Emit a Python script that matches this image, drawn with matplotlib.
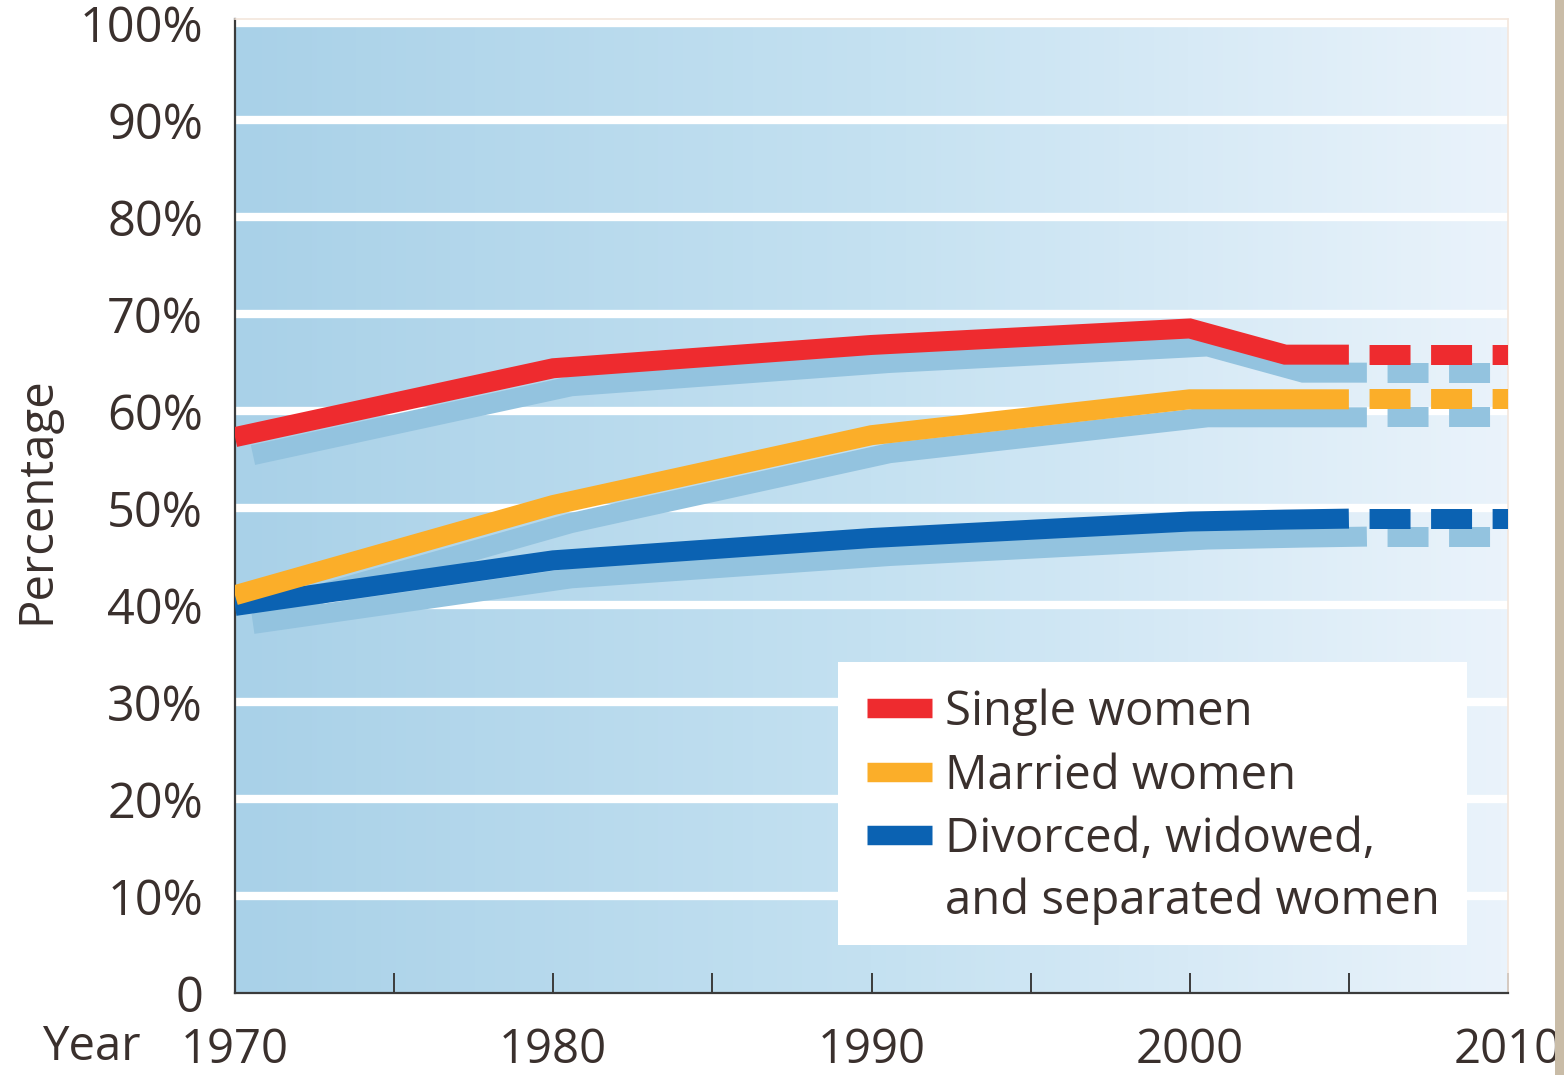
import matplotlib
matplotlib.use("Agg")
import matplotlib.pyplot as plt
import matplotlib.transforms as mtransforms
from matplotlib.colors import LinearSegmentedColormap
from matplotlib.patches import Rectangle
from matplotlib.lines import Line2D
import numpy as np

plt.rcParams['font.family'] = ['Open Sans', 'DejaVu Sans']
plt.rcParams['lines.scale_dashes'] = False

# ---- data ----
years = [1970, 1980, 1990, 2000, 2003, 2005]
single = [57.3, 64.4, 66.8, 68.5, 65.8, 65.8]
married = [41.0, 50.3, 57.5, 61.2, 61.2, 61.2]
divorced = [39.9, 44.6, 46.9, 48.6, 48.8, 48.9]

proj_years = [2005, 2010]
single_proj = [65.8, 65.8]
married_proj = [61.2, 61.2]
divorced_proj = [48.9, 48.9]

labels = ["Single women", "Married women", "Divorced, widowed,\nand separated women"]
colors = ["#ee2b2f", "#fbae29", "#0b62b2"]
xticks = [1970, 1975, 1980, 1985, 1990, 1995, 2000, 2005, 2010]
xtick_labels = ["1970", "", "1980", "", "1990", "", "2000", "", "2010"]
yticks = list(range(0, 101, 10))
ytick_labels = ["0"] + [f"{v}%" for v in yticks[1:]]

TXT = "#3a302d"
SHADOW = "#93c3df"

W, H = 1564, 1075
fig = plt.figure(figsize=(W / 100, H / 100), dpi=100)
fig.patch.set_facecolor("white")
ax = fig.add_axes([235 / W, (H - 993) / H, (1508 - 235) / W, (993 - 19) / H])
ax.set_xlim(1970, 2010)
ax.set_ylim(0, 100.4)

# gradient background
cmap = LinearSegmentedColormap.from_list("bg", ["#a9d1e8", "#c4e1f1", "#eaf3fb"])
grad = np.linspace(0, 1, 256).reshape(1, -1)
ax.imshow(grad, cmap=cmap, aspect="auto", extent=[0, 1, 0, 1],
          transform=ax.transAxes, zorder=0, interpolation="bicubic")

# white gridlines
for v in yticks[1:]:
    ax.axhline(v, color="white", lw=6, zorder=1)

lw = 14.4
shadow_tr = mtransforms.offset_copy(ax.transData, fig=fig, x=18, y=-18, units="dots")
dash = (29.5, (29.5, 14.8))

series = [single, married, divorced]
projs = [single_proj, married_proj, divorced_proj]

# shadows
for s, p in zip(series, projs):
    ax.plot(years, s, color=SHADOW, lw=lw, transform=shadow_tr, zorder=2,
            solid_capstyle="butt", solid_joinstyle="miter")
    ax.plot(proj_years, p, color=SHADOW, lw=lw, transform=shadow_tr, zorder=2,
            linestyle=dash, dash_capstyle="butt")

# main lines
for s, p, c, z in zip(series, projs, colors, [5, 4, 3]):
    ax.plot(years, s, color=c, lw=lw, zorder=z,
            solid_capstyle="butt", solid_joinstyle="miter")
    ax.plot(proj_years, p, color=c, lw=lw, zorder=z,
            linestyle=dash, dash_capstyle="butt")

# axes styling
for side in ["top", "right"]:
    ax.spines[side].set_color("#f4e6dc")
    ax.spines[side].set_linewidth(1.2)
for side in ["left", "bottom"]:
    ax.spines[side].set_color("#3b3b3b")
    ax.spines[side].set_linewidth(1.6)

ax.set_xticks(xticks)
ax.set_xticklabels(xtick_labels)
ax.set_yticks(yticks)
ax.set_yticklabels(ytick_labels)
ax.tick_params(axis="x", direction="in", length=14.5, width=1.4, color="#3b3b3b",
               pad=24, labelsize=34, labelcolor=TXT)
ax.tick_params(axis="y", length=0, pad=23, labelsize=35, labelcolor=TXT)

fig.text(42 / W, 1 - 1047 / H, "Year", fontsize=34, color=TXT, ha="left", va="center")
fig.text(37 / W, 1 - 500 / H, "Percentage", fontsize=34, color=TXT, rotation=90,
         ha="center", va="center")

# legend (manual)
def fx(px):
    return px / W

def fy(py):
    return 1 - py / H

fig.patches.append(Rectangle((fx(838), fy(945)), fx(1467) - fx(838), fy(662) - fy(945),
                             transform=fig.transFigure, facecolor="white",
                             edgecolor="none", zorder=6))
rows = [708, 772, 835]
line_gap = 62
for lab, c, yy in zip(labels, colors, rows):
    fig.lines.append(Line2D([fx(867), fx(932)], [fy(yy), fy(yy)], color=c, lw=14,
                            solid_capstyle="butt", transform=fig.transFigure, zorder=7))
    for i, part in enumerate(lab.split("\n")):
        fig.text(fx(945), fy(yy + 17 + i * line_gap), part, fontsize=34, color=TXT,
                 ha="left", va="baseline", zorder=8)

# page edge strip at the right
fig.patches.append(Rectangle((fx(1555), 0), 1 - fx(1555), 1, transform=fig.transFigure,
                             facecolor="#c9bca7", edgecolor="none", zorder=0))

fig.savefig("out.png", dpi=100)
